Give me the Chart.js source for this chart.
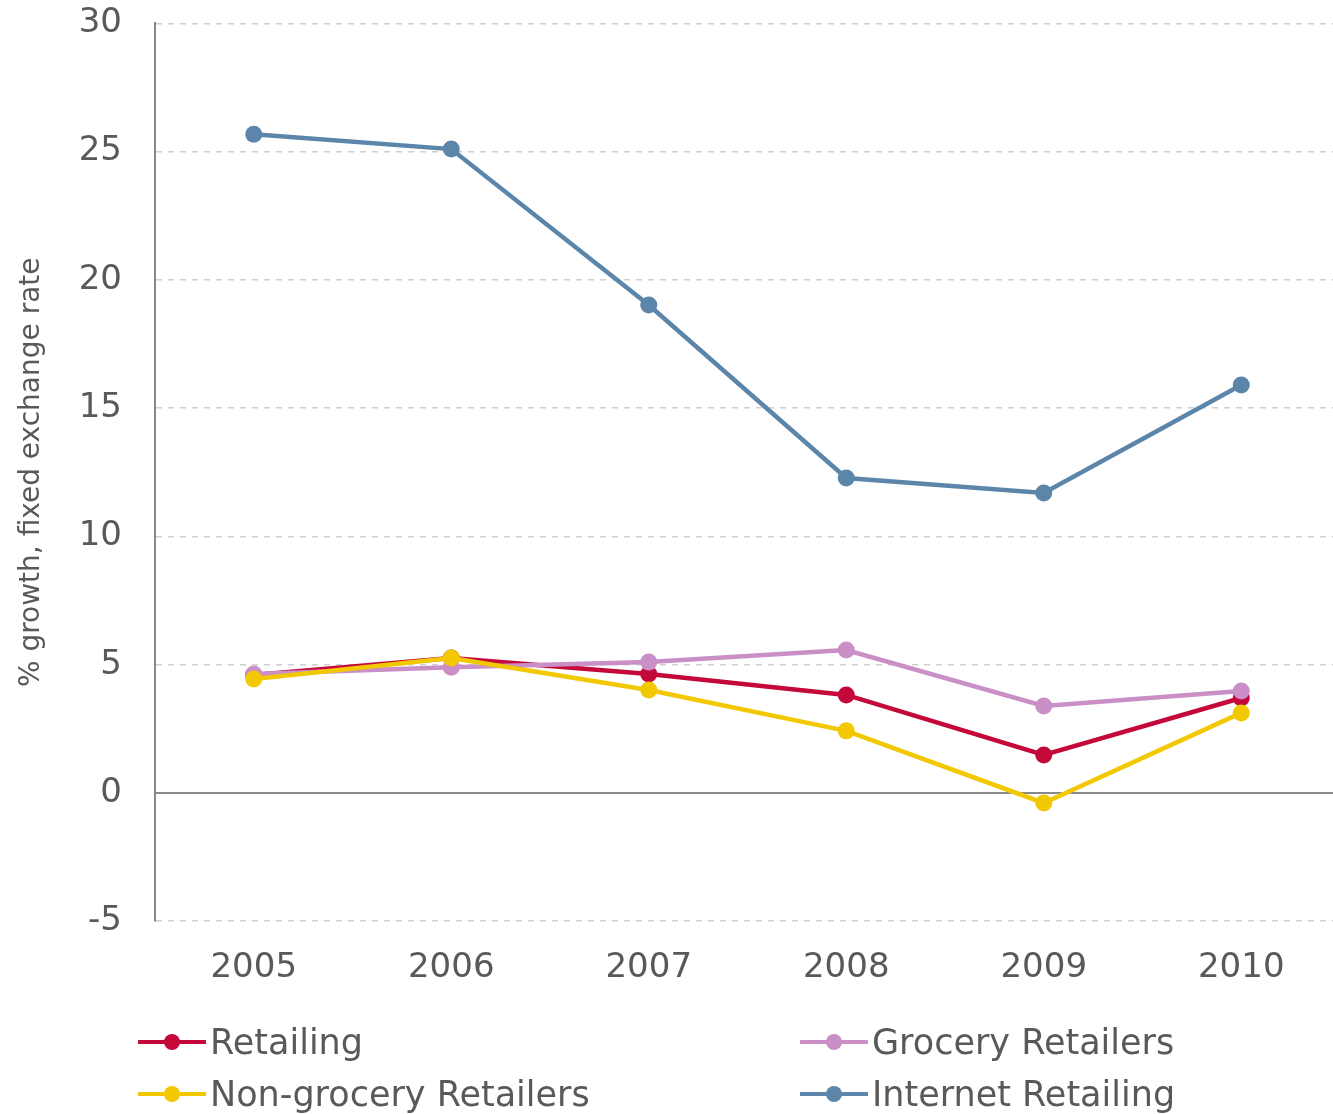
<!DOCTYPE html>
<html>
<head>
<meta charset="utf-8">
<script src="https://cdn.jsdelivr.net/npm/chart.js@4.4.0/dist/chart.umd.min.js"></script>
<style>
  html, body { margin: 0; padding: 0; background: #fff; overflow: hidden; }
  #wrap { position: relative; width: 1341px; height: 1058px; margin-top: -30px; }
  .legend { position: absolute; font-family: "DejaVu Sans", sans-serif; font-size: 35px; color: #595959; white-space: nowrap; }
  .legend .item { position: absolute; display: flex; align-items: center; height: 44px; }
  .legend svg { margin-right: 4px; }
</style>
</head>
<body>
<div id="wrap"><canvas id="chart"></canvas></div>
<div class="legend" id="legend" style="left:0;top:0;width:1333px;"></div>
<script>
const years = ['2005', '2006', '2007', '2008', '2009', '2010'];
const retailing = [4.6, 5.26, 4.64, 3.82, 1.48, 3.7];
const grocery = [4.64, 4.9, 5.1, 5.57, 3.39, 3.97];
const nonGrocery = [4.44, 5.26, 4.01, 2.42, -0.39, 3.12];
const internet = [25.68, 25.1, 19.02, 12.28, 11.69, 15.9];
const yTicks = [-5, 0, 5, 10, 15, 20, 25, 30];

const colors = {
    retailing: '#c4083a',
    grocery: '#c98fc6',
    nonGrocery: '#f2c800',
    internet: '#5b86aa'
};

const fontFamily = '"DejaVu Sans", sans-serif';

function series(label, data, color, order) {
    return {
        label: label, data: data, order: order,
        borderColor: color, backgroundColor: color,
        borderWidth: 4.5, pointRadius: 8.5, pointHoverRadius: 8.5,
        pointBorderWidth: 0, tension: 0
    };
}

const canvas = document.getElementById('chart');
canvas.width = 1341; canvas.height = 1058;

new Chart(canvas, {
    type: 'line',
    data: {
        labels: years,
        datasets: [
            series('Retailing', retailing, colors.retailing, 2),
            series('Grocery Retailers', grocery, colors.grocery, 1),
            series('Non-grocery Retailers', nonGrocery, colors.nonGrocery, 0),
            series('Internet Retailing', internet, colors.internet, 3)
        ]
    },
    options: {
        responsive: false,
        animation: false,
        layout: { autoPadding: false, padding: { top: 22, right: 1, bottom: 12, left: 0 } },
        plugins: { legend: { display: false }, tooltip: { enabled: false } },
        scales: {
            x: {
                offset: true,
                grid: { display: false, drawTicks: false },
                border: { display: false },
                ticks: { color: '#595959', font: { family: fontFamily, size: 34 }, padding: 27 }
            },
            y: {
                min: -5, max: 30,
                afterBuildTicks: s => { s.ticks = yTicks.map(v => ({ value: v })); },
                afterFit: s => { s.width = 155; },
                grid: {
                    drawTicks: false,
                    color: c => (c.tick && c.tick.value === 0) ? '#8a8a8a' : '#cfcfcf',
                    lineWidth: c => (c.tick && c.tick.value === 0) ? 2 : 1.5
                },
                border: {
                    display: true, color: '#8a8a8a', width: 2,
                    dash: c => (c.tick && c.tick.value !== 0) ? [6, 6] : []
                },
                ticks: { color: '#595959', font: { family: fontFamily, size: 34 }, padding: 33 },
                title: {
                    display: true,
                    text: '% growth, fixed exchange rate',
                    color: '#595959',
                    font: { family: fontFamily, size: 28 },
                    padding: { top: 15, bottom: 4 }
                }
            }
        }
    }
});

const legendItems = [
    { label: 'Retailing', color: colors.retailing, x: 138, y: 1020 },
    { label: 'Grocery Retailers', color: colors.grocery, x: 800, y: 1020 },
    { label: 'Non-grocery Retailers', color: colors.nonGrocery, x: 138, y: 1072 },
    { label: 'Internet Retailing', color: colors.internet, x: 800, y: 1072 }
];
const legend = document.getElementById('legend');
legendItems.forEach(it => {
    const d = document.createElement('div');
    d.className = 'item';
    d.style.left = it.x + 'px';
    d.style.top = it.y + 'px';
    d.innerHTML = '<svg width="68" height="20"><line x1="1" y1="10" x2="67" y2="10" stroke="' + it.color +
        '" stroke-width="4" stroke-linecap="round"/><circle cx="34" cy="10" r="8" fill="' + it.color + '"/></svg>' +
        '<span>' + it.label + '</span>';
    legend.appendChild(d);
});
</script>
</body>
</html>
